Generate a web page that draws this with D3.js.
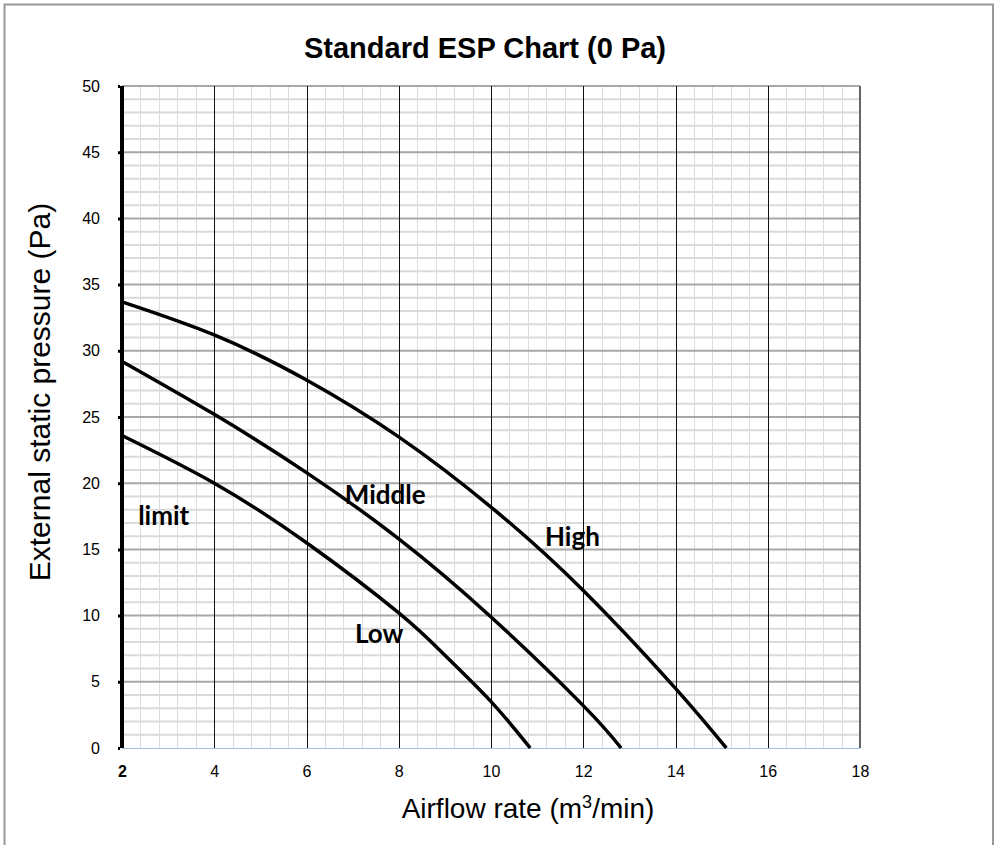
<!DOCTYPE html>
<html>
<head>
<meta charset="utf-8">
<script src="https://cdn.jsdelivr.net/npm/d3@7"></script>
<style>
  body { margin: 0; background: #fff; }
</style>
</head>
<body>
<div id="chart"></div>
<script>
/* DATA */
const xTicks = [2, 4, 6, 8, 10, 12, 14, 16, 18];
const yTicks = [0, 5, 10, 15, 20, 25, 30, 35, 40, 45, 50];

const highX = [2, 4, 6, 8, 10, 12, 14, 15.1];
const highY = [33.7, 31.2, 27.8, 23.5, 18.2, 11.9, 4.5, 0];
const middleX = [2, 4, 6, 8, 10, 12, 12.82];
const middleY = [29.2, 25.2, 20.8, 15.8, 9.9, 3.2, 0];
const lowX = [2, 4, 6, 8, 9, 10, 10.85];
const lowY = [23.6, 20.0, 15.5, 10.2, 7.0, 3.5, 0];

// labels placed at data positions
const labelText = ["limit", "Middle", "High", "Low"];
const labelX = [2.35, 6.83, 11.17, 7.05];
const labelY = [16.85, 18.45, 15.25, 7.95];

/* LAYOUT */
const width = 997, height = 845;
const margin = { top: 86, bottom: 97, left: 122, right: 137 };
const arial = "'Liberation Sans', Arial, sans-serif";

const svg = d3.select("#chart")
  .append("svg")
  .attr("width", width)
  .attr("height", height)
  .style("font-family", arial);

// outer frame
svg.append("rect")
  .attr("x", 4.5).attr("y", 4.5)
  .attr("width", 988.5).attr("height", 850)
  .attr("fill", "none")
  .attr("stroke", "#999")
  .attr("stroke-width", 2);

const xScale = d3.scaleLinear().domain([2, 18]).range([margin.left, width - margin.right]);
const yScale = d3.scaleLinear().domain([0, 50]).range([height - margin.bottom, margin.top]);

const grid = svg.append("g");

// minor vertical lines every 0.4
const minorX = d3.range(2, 18.001, 0.4).filter(v => Math.abs(v / 2 - Math.round(v / 2)) > 0.01);
grid.selectAll("line.vminor")
  .data(minorX)
  .join("line")
  .attr("class", "vminor")
  .attr("x1", d => Math.round(xScale(d)) + 0.5)
  .attr("x2", d => Math.round(xScale(d)) + 0.5)
  .attr("y1", yScale(50)).attr("y2", yScale(0))
  .attr("stroke", "#dcdcdc").attr("stroke-width", 1);

// minor horizontal lines every 1
const minorY = d3.range(1, 50).filter(v => v % 5 !== 0);
grid.selectAll("line.hminor")
  .data(minorY)
  .join("line")
  .attr("class", "hminor")
  .attr("x1", xScale(2)).attr("x2", xScale(18))
  .attr("y1", d => yScale(d)).attr("y2", d => yScale(d))
  .attr("stroke", "#dadada").attr("stroke-width", 2);

// major horizontal every 5
grid.selectAll("line.hmajor")
  .data(yTicks.filter(v => v > 0))
  .join("line")
  .attr("class", "hmajor")
  .attr("x1", xScale(2)).attr("x2", xScale(18))
  .attr("y1", d => yScale(d)).attr("y2", d => yScale(d))
  .attr("stroke", "#a8a8a8").attr("stroke-width", 2);

// major vertical every 2
grid.selectAll("line.vmajor")
  .data(xTicks.filter(v => v > 2 && v < 18))
  .join("line")
  .attr("class", "vmajor")
  .attr("x1", d => Math.round(xScale(d)) + 0.5)
  .attr("x2", d => Math.round(xScale(d)) + 0.5)
  .attr("y1", yScale(50)).attr("y2", yScale(0))
  .attr("stroke", "#111").attr("stroke-width", 1);

// right edge
grid.append("line")
  .attr("x1", xScale(18)).attr("x2", xScale(18))
  .attr("y1", yScale(50)).attr("y2", yScale(0))
  .attr("stroke", "#666").attr("stroke-width", 2);

// bottom baseline (light blue)
grid.append("line")
  .attr("x1", xScale(2)).attr("x2", xScale(18))
  .attr("y1", yScale(0) + 0.5).attr("y2", yScale(0) + 0.5)
  .attr("stroke", "#9dbfe6").attr("stroke-width", 1);

// CURVES
const line = d3.line()
  .x(d => xScale(d[0]))
  .y(d => yScale(d[1]))
  .curve(d3.curveNatural);

const series = [
  d3.zip(highX, highY),
  d3.zip(middleX, middleY),
  d3.zip(lowX, lowY)
];

svg.selectAll("path.curve")
  .data(series)
  .join("path")
  .attr("class", "curve")
  .attr("fill", "none")
  .attr("stroke", "#000")
  .attr("stroke-width", 3.5)
  .attr("d", line);

// Y AXIS (thick left line)
const yAxis = d3.axisLeft(yScale).tickValues(yTicks).tickSize(4).tickPadding(18);
const yAxisGroup = svg.append("g")
  .attr("transform", `translate(${margin.left}, 0)`)
  .call(yAxis)
  .attr("font-size", 16)
  .attr("font-family", arial);
yAxisGroup.select(".domain")
  .attr("stroke", "#000").attr("stroke-width", 4)
  .attr("d", `M0,${yScale(50)}V${yScale(0)}`);
yAxisGroup.selectAll(".tick line").attr("stroke-width", 3).attr("x1", -2);
yAxisGroup.selectAll(".tick text").attr("fill", "#000");

// X AXIS labels
const xAxis = d3.axisBottom(xScale).tickValues(xTicks).tickSize(0).tickPadding(18);
const xAxisGroup = svg.append("g")
  .attr("transform", `translate(0, ${yScale(0)})`)
  .call(xAxis)
  .attr("font-size", 16)
  .attr("font-family", arial);
xAxisGroup.select(".domain").remove();
xAxisGroup.selectAll(".tick text")
  .attr("fill", "#000")
  .attr("font-weight", d => d === 2 ? "bold" : "normal");

// TITLES
svg.append("text")
  .attr("x", 485).attr("y", 58)
  .attr("text-anchor", "middle")
  .attr("font-size", 29)
  .attr("font-weight", "bold")
  .text("Standard ESP Chart (0 Pa)");

const xTitle = svg.append("text")
  .attr("x", 528).attr("y", 818)
  .attr("text-anchor", "middle")
  .attr("font-size", 28);
xTitle.append("tspan").text("Airflow rate (m");
xTitle.append("tspan").attr("font-size", 18).attr("dy", -10).text("3");
xTitle.append("tspan").attr("dy", 10).text("/min)");

svg.append("text")
  .attr("transform", `translate(50, 392) rotate(-90)`)
  .attr("text-anchor", "middle")
  .attr("font-size", 30)
  .text("External static pressure (Pa)");

// CURVE LABELS
svg.selectAll("text.curve-label")
  .data(labelText)
  .join("text")
  .attr("class", "curve-label")
  .attr("x", (d, i) => xScale(labelX[i]))
  .attr("y", (d, i) => yScale(labelY[i]))
  .attr("font-family", "Lato, 'Open Sans', sans-serif")
  .attr("font-weight", "bold")
  .attr("font-size", 26)
  .attr("fill", "#000")
  .text(d => d);
</script>
</body>
</html>
